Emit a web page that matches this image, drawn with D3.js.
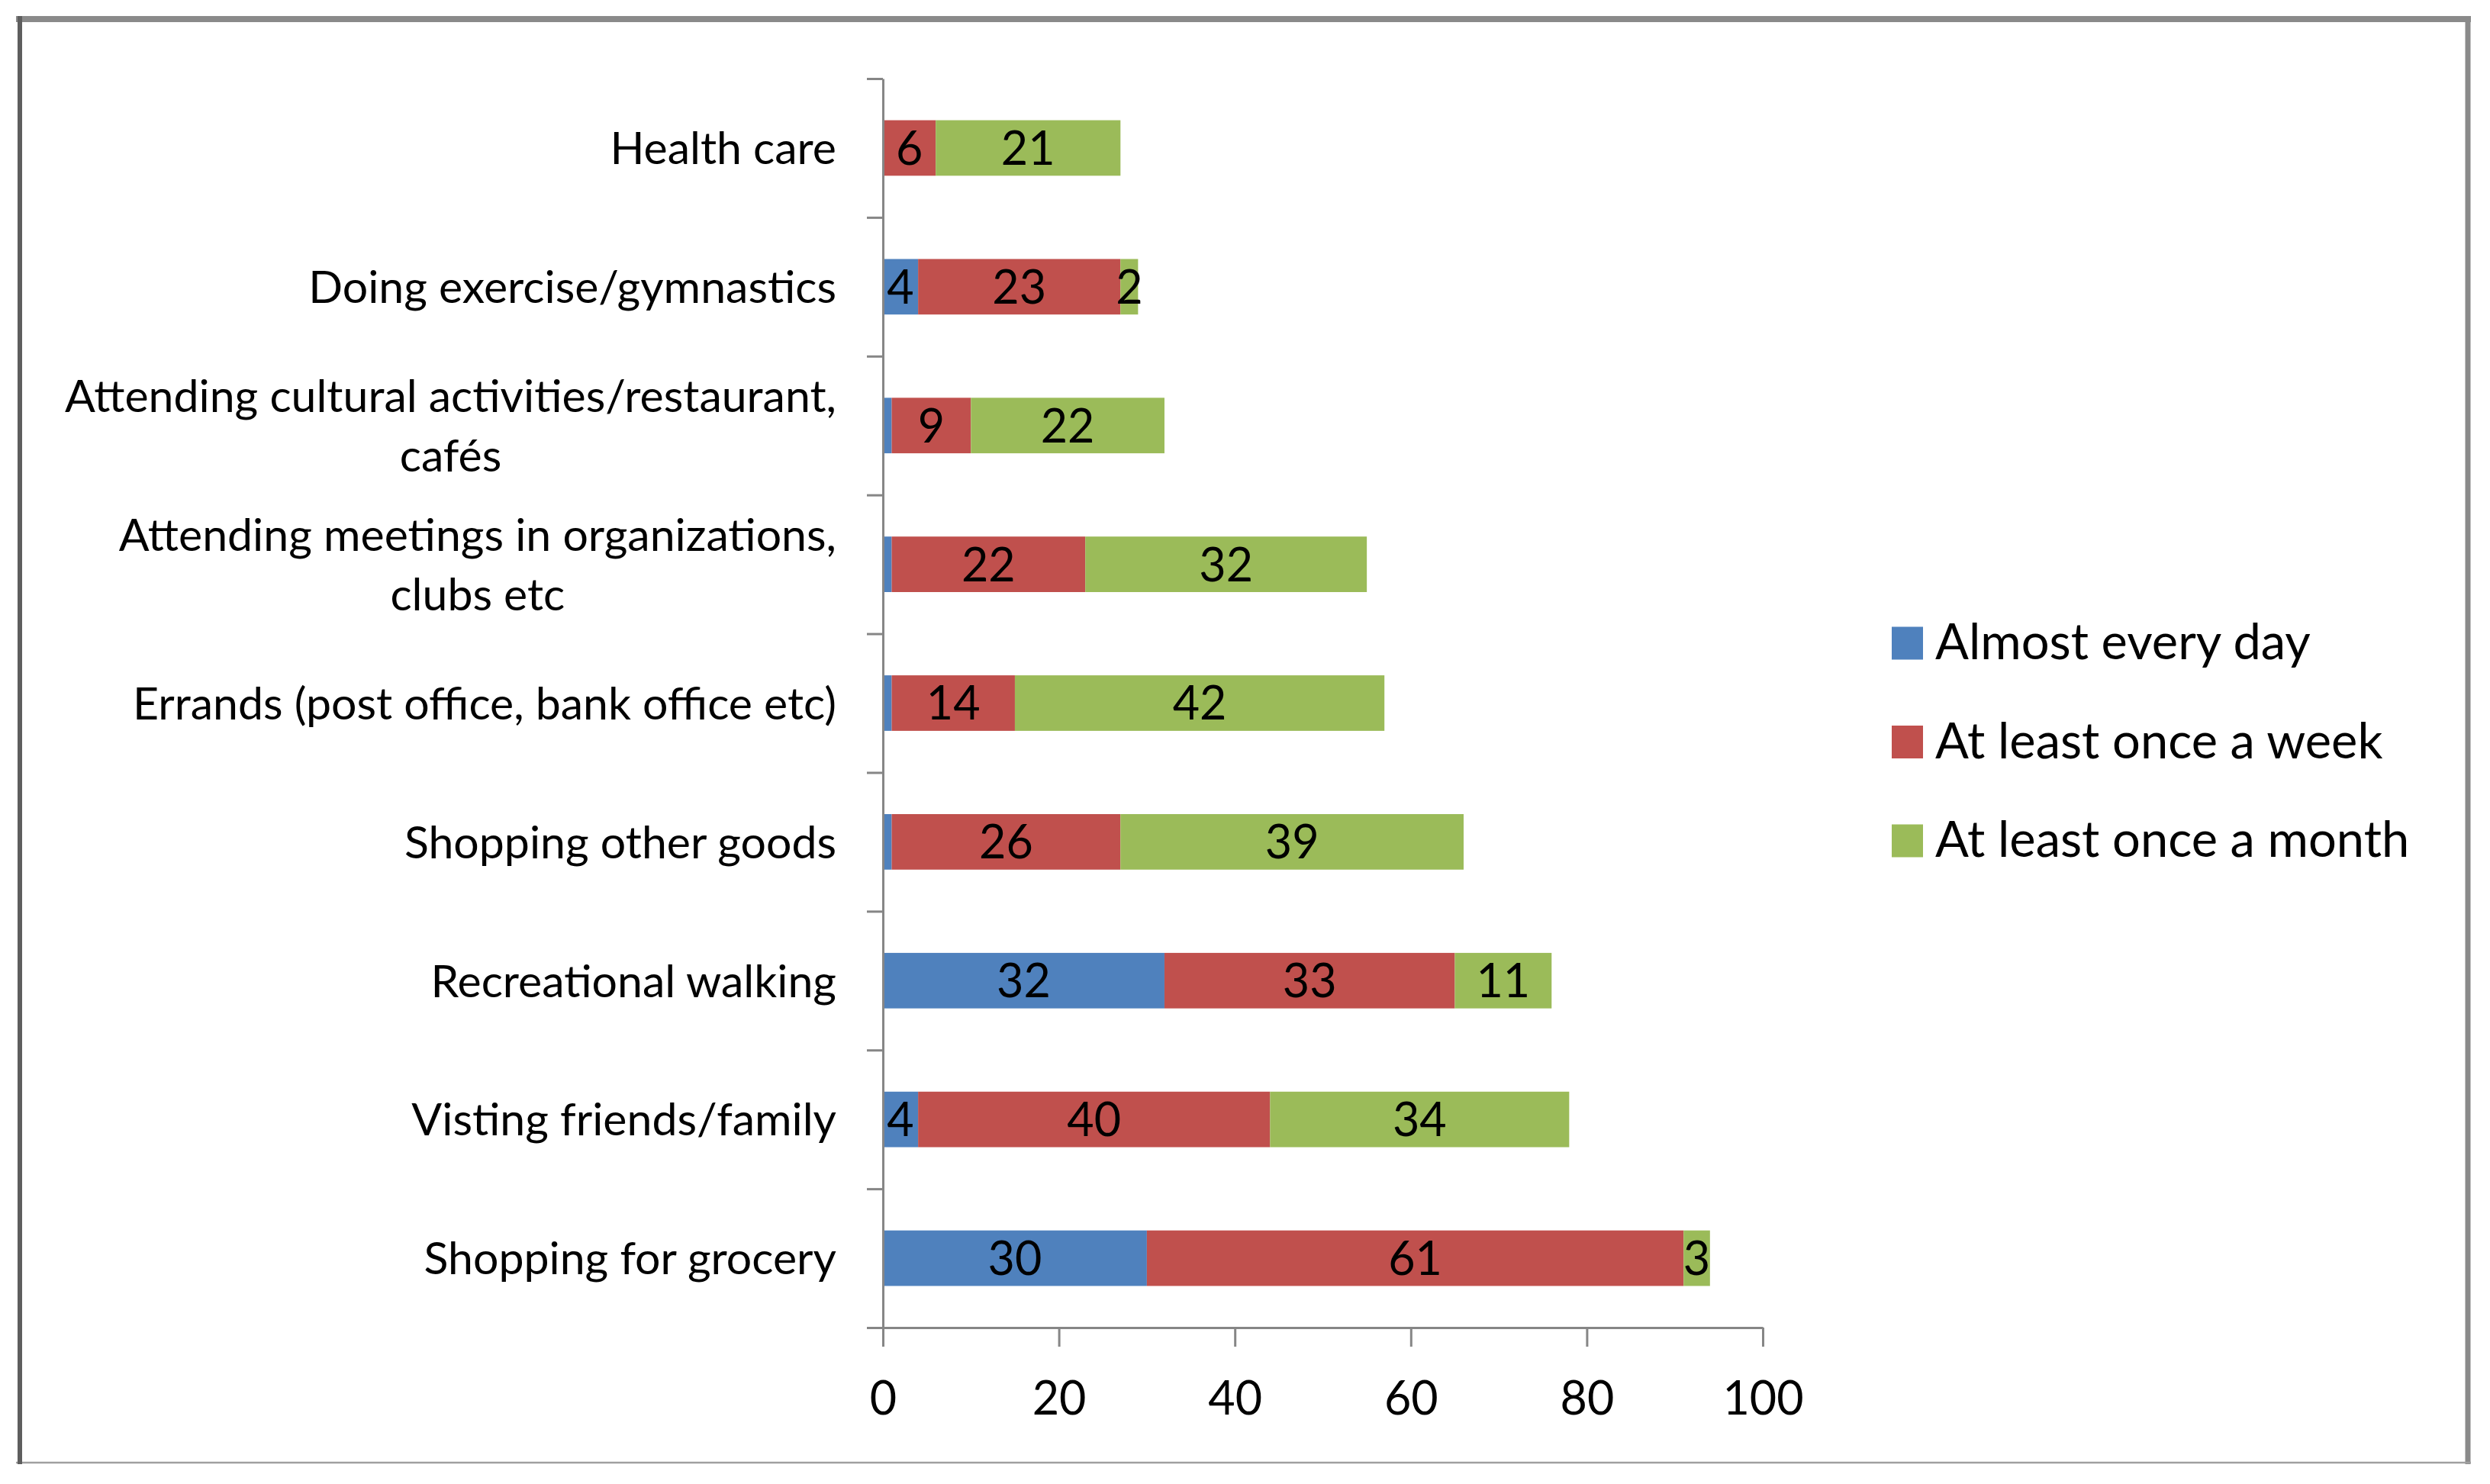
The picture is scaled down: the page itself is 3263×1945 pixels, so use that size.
<!DOCTYPE html>
<html>
<head>
<meta charset="utf-8">
<script src="https://cdn.jsdelivr.net/npm/d3@7"></script>
<style>
  html, body { margin: 0; padding: 0; background: #fff; }
  svg { display: block; }
  text { font-family: Lato, "Open Sans", sans-serif; fill: #000; }
</style>
</head>
<body>
<svg id="chart" width="3263" height="1945"></svg>
<script>
// ── Data ──────────────────────────────────────────────────────────────────────

const categories = [
  'Health care',
  'Doing exercise/gymnastics',
  'Attending cultural activities/restaurant,\ncafés',
  'Attending meetings in organizations,\nclubs etc',
  'Errands (post office, bank office etc)',
  'Shopping other goods',
  'Recreational walking',
  'Visting friends/family',
  'Shopping for grocery',
];

const dailyValues   = [0, 4, 1, 1, 1, 1, 32, 4, 30];
const weeklyValues  = [6, 23, 9, 22, 14, 26, 33, 40, 61];
const monthlyValues = [21, 2, 22, 32, 42, 39, 11, 34, 3];

const seriesNames  = ['Almost every day', 'At least once a week', 'At least once a month'];
const seriesColors = ['#4F81BD', '#C0504D', '#9BBB59'];

const xTicks = [0, 20, 40, 60, 80, 100];

// ── Layout ────────────────────────────────────────────────────────────────────

const W = 3263, H = 1945;
const plot = { left: 1157, right: 2310, top: 103, bottom: 1740 };
const axisColor = '#868686';

const svg = d3.select('#chart');

// frame round the whole picture
const frame = svg.append('g').attr('stroke', '#8a8a8a').attr('fill', 'none');
frame.append('line').attr('x1', 21).attr('x2', 3238).attr('y1', 25).attr('y2', 25).attr('stroke-width', 8);
frame.append('line').attr('x1', 3234).attr('x2', 3234).attr('y1', 21).attr('y2', 1919).attr('stroke-width', 7);
frame.append('line').attr('x1', 21).attr('x2', 3238).attr('y1', 1917).attr('y2', 1917).attr('stroke-width', 2.5).attr('stroke', '#a0a0a0');
frame.append('line').attr('x1', 26).attr('x2', 26).attr('y1', 21).attr('y2', 1919).attr('stroke-width', 6).attr('stroke', '#5e5e5e');

// ── Scales ────────────────────────────────────────────────────────────────────

const x = d3.scaleLinear().domain([0, 100]).range([plot.left, plot.right]);

const y = d3.scaleBand()
  .domain(categories)
  .range([plot.top, plot.bottom])
  .paddingInner(0.6)
  .paddingOuter(0.3);

const rows = categories.map((c, i) => ({
  category: c, values: [dailyValues[i], weeklyValues[i], monthlyValues[i]],
}));

const stack = d3.stack().keys([0, 1, 2]).value((d, k) => d.values[k]);
const layers = stack(rows);

// ── Bars ──────────────────────────────────────────────────────────────────────

const layerG = svg.append('g').selectAll('g').data(layers).join('g')
  .attr('fill', (d, i) => seriesColors[i]);

layerG.selectAll('rect').data(d => d).join('rect')
  .attr('x', d => x(d[0]))
  .attr('y', d => y(d.data.category))
  .attr('width', d => x(d[1]) - x(d[0]))
  .attr('height', y.bandwidth());

// data labels, centred in each segment (the 1s are left unlabelled)
layerG.selectAll('text').data(d => d.filter(s => s[1] - s[0] > 1)).join('text')
  .attr('x', d => (x(d[0]) + x(d[1])) / 2)
  .attr('y', d => y(d.data.category) + y.bandwidth() / 2)
  .attr('dy', '0.36em')
  .attr('text-anchor', 'middle')
  .attr('font-size', 61)
  .attr('fill', '#000')
  .text(d => d[1] - d[0]);

// ── Axes ──────────────────────────────────────────────────────────────────────

// category axis: ticks between the bars
const yEdges = d3.scaleLinear().domain([0, categories.length]).range([plot.top, plot.bottom]);
const yAxis = svg.append('g')
  .attr('transform', `translate(${plot.left},0)`)
  .call(d3.axisLeft(yEdges).ticks(categories.length).tickSize(21).tickSizeOuter(0).tickFormat(''));

const xAxis = svg.append('g')
  .attr('transform', `translate(0,${plot.bottom})`)
  .call(d3.axisBottom(x).tickValues(xTicks).tickSize(25).tickSizeOuter(0).tickPadding(46));

[yAxis, xAxis].forEach(g => {
  g.selectAll('path, line').attr('stroke', axisColor).attr('stroke-width', 3);
});
xAxis.selectAll('text')
  .attr('font-size', 61)
  .attr('font-family', 'Lato, sans-serif')
  .attr('fill', '#000');

// category labels, multi-line ones centred as a block
const labelRight = 1096;
const lineGap = 78;
const labelG = svg.append('g');
categories.forEach(c => {
  const lines = c.split('\n');
  const cy = y(c) + y.bandwidth() / 2;
  const t = labelG.append('text').attr('font-size', 59);
  lines.forEach((ln, i) => {
    t.append('tspan')
      .attr('y', cy + (i - (lines.length - 1) / 2) * lineGap)
      .attr('dy', '0.36em')
      .text(ln);
  });
  if (lines.length === 1) {
    t.attr('text-anchor', 'end').selectAll('tspan').attr('x', labelRight);
  } else {
    const widest = d3.max(t.selectAll('tspan').nodes(), n => n.getComputedTextLength());
    t.attr('text-anchor', 'middle').selectAll('tspan').attr('x', labelRight - widest / 2);
  }
});

// ── Legend ────────────────────────────────────────────────────────────────────

const legend = svg.append('g').attr('transform', 'translate(2479,843)');
const item = legend.selectAll('g').data(seriesNames).join('g')
  .attr('transform', (d, i) => `translate(0,${i * 129.5})`);

item.append('rect')
  .attr('x', 0).attr('y', -21.5)
  .attr('width', 41).attr('height', 43)
  .attr('fill', (d, i) => seriesColors[i]);

item.append('text')
  .attr('x', 57).attr('y', -2).attr('dy', '0.36em')
  .attr('font-size', 65)
  .text(d => d);
</script>
</body>
</html>
